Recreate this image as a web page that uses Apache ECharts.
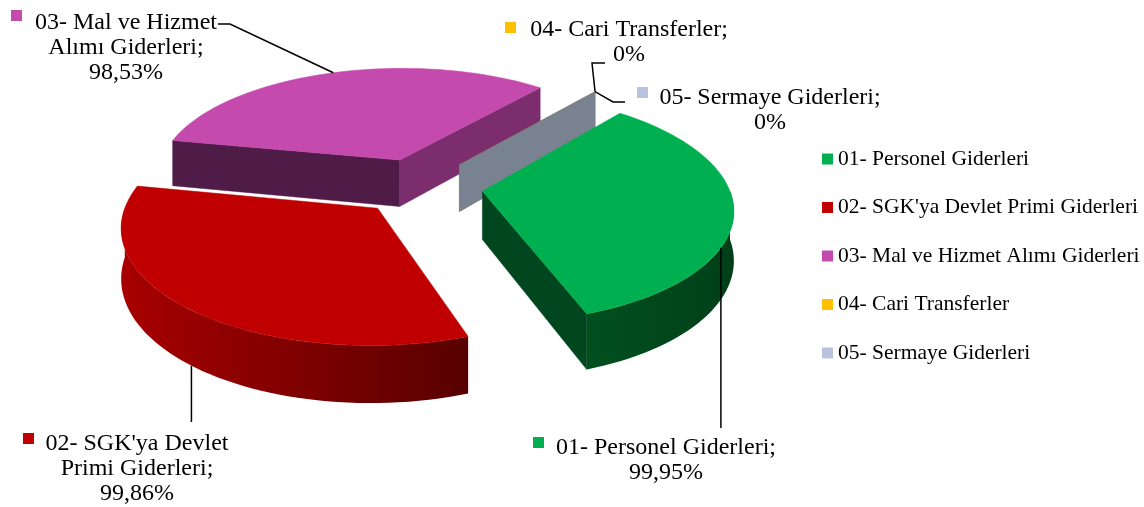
<!DOCTYPE html>
<html>
<head>
<meta charset="utf-8">
<script src="https://cdn.jsdelivr.net/npm/echarts@6/dist/echarts.min.js"></script>
<style>
html, body { margin: 0; padding: 0; background: #fff; }
#main { width: 1144px; height: 507px; }
</style>
</head>
<body>
<div id="main"></div>
<script>
// 分类与数值
var categories = ['01- Personel Giderleri', "02- SGK'ya Devlet Primi Giderleri", '03- Mal ve Hizmet Alımı Giderleri', '04- Cari Transferler', '05- Sermaye Giderleri'];
var values = [99.95, 99.86, 98.53, 0, 0];
// 数据标签里的换行
var labelNames = ['01- Personel Giderleri', "02- SGK'ya Devlet\nPrimi Giderleri", '03- Mal ve Hizmet\nAlımı Giderleri', '04- Cari Transferler', '05- Sermaye Giderleri'];

// 颜色
var colors = ['#00B050', '#C00000', '#C44AAE', '#FFC000', '#B8C4DE'];
var startWallColors = ['#00461F', '#700000', '#4F1C48', '#8C6A00', '#798290'];
var endWallColors = ['#00461F', '#700000', '#7C2D6E', '#8C6A00', '#798290'];
var outerColors = [['#00501F', '#003F18'], ['#A80000', '#580000'], ['#7A2C6C', '#4F1C48'], ['#8C6A00', '#6A5000'], ['#798290', '#5F6670']];

// 3D 饼图的投影参数
var CX = 420, CY = 186, R = 246, EXP = 63, START = 40;
var SIN = 0.4523, PA = 0.000569, HS = 48;

// 标签位置（手动摆放）
var labelLayout = [
    {x: 666, y: 435.5, sq: [533, 437], anchor: 118, bottom: false, path: [[null, 428]]},
    {x: 137, y: 431.5, sq: [23, 433], anchor: 219.5, bottom: true, path: [[null, 422]]},
    {x: 126, y: 10.5, sq: [11, 10], anchor: 341, bottom: false, path: [[230, 24], [218, 24]]},
    {x: 629, y: 17.5, sq: [505, 22], anchor: null, bottom: false, path: [[592, 63], [605, 63]]},
    {x: 770, y: 85.5, sq: [637, 87], anchor: null, bottom: false, path: [[613, 102], [625, 102]]}
];

function rad(a) { return a * Math.PI / 180; }

function proj(X, Z, bottom) {
    var f = 1 + Z * PA;
    return [CX + X / f, CY - Z * SIN / f + (bottom ? HS / f : 0)];
}

var total = 0;
for (var i = 0; i < values.length; i++) total += values[i];
var geo = [];
var acc = START;
for (var i = 0; i < values.length; i++) {
    var a0 = acc, a1 = acc + values[i] / total * 360;
    acc = a1;
    var m = (a0 + a1) / 2;
    geo.push({a0: a0, a1: a1, m: m, ox: EXP * Math.sin(rad(m)), oz: EXP * Math.cos(rad(m))});
}

function rim(g, a, bottom) {
    return proj(g.ox + R * Math.sin(rad(a)), g.oz + R * Math.cos(rad(a)), bottom);
}
function apex(g, bottom) {
    return proj(g.ox, g.oz, bottom);
}
function arc(g, from, to, bottom) {
    var pts = [];
    var n = Math.max(1, Math.ceil(Math.abs(to - from) / 2));
    for (var k = 0; k <= n; k++) {
        pts.push(rim(g, from + (to - from) * k / n, bottom));
    }
    return pts;
}

// 画的先后：远的先画
var order = geo.map(function (g, i) { return i; });
order.sort(function (p, q) { return (geo[q].oz - geo[p].oz) || (p - q); });
var zOf = [];
order.forEach(function (idx, k) { zOf[idx] = k + 1; });

function pct(v) {
    return v === 0 ? '0%' : v.toFixed(2).replace('.', ',') + '%';
}

function renderSlice(params, api) {
    var i = params.seriesIndex;
    var g = geo[i];
    var children = [];
    // 外侧曲面
    [-1, 0, 1].forEach(function (k) {
        var lo = Math.max(g.a0, 90 + 360 * k), hi = Math.min(g.a1, 270 + 360 * k);
        if (hi > lo) {
            var pts = arc(g, lo, hi, false).concat(arc(g, hi, lo, true));
            children.push({
                type: 'polygon',
                shape: {points: pts},
                style: {fill: new echarts.graphic.LinearGradient(0, 0, 1, 0, [
                    {offset: 0, color: outerColors[i][0]},
                    {offset: 1, color: outerColors[i][1]}
                ])}
            });
        }
    });
    // 两个切面
    if (Math.sin(rad(g.a0)) < 0) {
        children.push({
            type: 'polygon',
            shape: {points: [apex(g, false), rim(g, g.a0, false), rim(g, g.a0, true), apex(g, true)]},
            style: {fill: startWallColors[i], stroke: startWallColors[i], lineWidth: 0.5}
        });
    }
    if (Math.sin(rad(g.a1)) > 0) {
        children.push({
            type: 'polygon',
            shape: {points: [apex(g, false), rim(g, g.a1, false), rim(g, g.a1, true), apex(g, true)]},
            style: {fill: endWallColors[i], stroke: endWallColors[i], lineWidth: 0.5}
        });
    }
    // 顶面
    if (g.a1 > g.a0) {
        children.push({
            type: 'polygon',
            shape: {points: [apex(g, false)].concat(arc(g, g.a0, g.a1, false))},
            style: {fill: colors[i], stroke: colors[i], lineWidth: 0.5}
        });
    }
    // 数据标签
    var L = labelLayout[i];
    var anc = rim(g, L.anchor === null ? g.m : L.anchor, L.bottom);
    var line = [anc];
    L.path.forEach(function (p) {
        line.push([p[0] === null ? anc[0] : p[0], p[1]]);
    });
    children.push({
        type: 'polyline',
        shape: {points: line},
        style: {stroke: '#000', lineWidth: 1.5, fill: null},
        z2: 50
    });
    children.push({
        type: 'rect',
        shape: {x: L.sq[0], y: L.sq[1], width: 11, height: 11},
        style: {fill: colors[i]},
        z2: 50
    });
    children.push({
        type: 'text',
        x: L.x,
        y: L.y,
        style: {
            text: labelNames[i] + ';\n' + pct(values[i]),
            fontSize: 24,
            fontFamily: 'Liberation Serif',
            align: 'center',
            verticalAlign: 'top',
            lineHeight: 25,
            fill: '#000'
        },
        z2: 50
    });
    return {type: 'group', children: children};
}

var chart = echarts.init(document.getElementById('main'));
var option = {
    animation: false,
    legend: {
        orient: 'vertical',
        left: 822,
        top: 148,
        padding: 0,
        icon: 'rect',
        itemWidth: 11,
        itemHeight: 11,
        itemGap: 26.5,
        data: categories,
        textStyle: {
            fontFamily: 'Liberation Serif',
            fontSize: 21.5,
            color: '#000'
        }
    },
    series: categories.map(function (name, i) {
        return {
            type: 'custom',
            name: name,
            coordinateSystem: 'none',
            renderItem: renderSlice,
            data: [[values[i]]],
            itemStyle: {color: colors[i]},
            z: zOf[i],
            silent: true
        };
    })
};
chart.setOption(option);
</script>
</body>
</html>
